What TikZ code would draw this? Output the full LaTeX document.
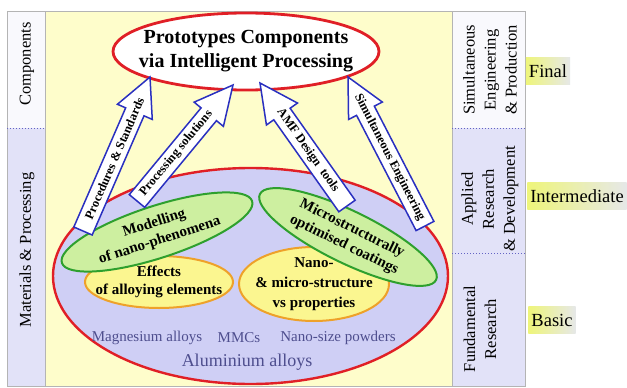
\documentclass[tikz,border=0pt]{standalone}
\usepackage{fontspec}
\setmainfont{Liberation Serif}
\usetikzlibrary{shapes.geometric,calc}

\definecolor{bgyellow}{HTML}{FEFDCB}
\definecolor{lav}{HTML}{E2E2F8}
\definecolor{colwhite}{HTML}{F9F9FD}
\definecolor{bigfill}{HTML}{CFCFF5}
\definecolor{redline}{HTML}{E01F26}
\definecolor{greenline}{HTML}{2EA02E}
\definecolor{greenfill}{HTML}{CDEFA0}
\definecolor{yelfill}{HTML}{FBF690}
\definecolor{orangeline}{HTML}{EEA12A}
\definecolor{arrowblue}{HTML}{2A30C0}
\definecolor{slate}{HTML}{4E4E8E}
\definecolor{labelyellow}{HTML}{EEF57A}
\definecolor{labelgray}{HTML}{E6E8E8}
\definecolor{framegray}{HTML}{B4B4B4}
\definecolor{dotblue}{HTML}{6464C4}

\newcommand\fs[2]{\fontsize{#1}{#2}\selectfont}
\newcommand\blockarrow[4]{%
  \coordinate (#1h) at ($(#2)!38pt!(#1)$);
  \draw[blockarrow] ($(#1)!10pt!90:(#2)$) -- ($(#1h)!10pt!90:(#2)$) -- ($(#1h)!19pt!90:(#2)$) -- (#2)
     -- ($(#1h)!19pt!-90:(#2)$) -- ($(#1h)!10pt!-90:(#2)$) -- ($(#1)!10pt!-90:(#2)$) -- cycle;
  \path (#1) -- (#2) node[arrowtext, sloped, pos=#4] (#1txt) {#3};
}

\begin{document}
\begin{tikzpicture}[x=1pt,y=-1pt,
  ell/.style={ellipse, inner sep=0pt, outer sep=0pt},
  bigell/.style={ell, draw=redline, line width=2.4pt, fill=bigfill, minimum width=395pt, minimum height=216pt},
  topell/.style={ell, draw=redline, line width=2.8pt, fill=white, minimum width=266pt, minimum height=77pt},
  yell/.style={ell, draw=orangeline, line width=2pt, fill=yelfill},
  grell/.style={ell, draw=greenline, line width=2pt, fill=greenfill, minimum width=200pt, minimum height=52pt},
  elltext/.style={inner sep=0pt, align=center, font=\bfseries\fs{15}{18}},
  titletext/.style={inner sep=0pt, align=center, font=\bfseries\fs{20}{24}},
  coltext/.style={inner sep=0pt, align=center, rotate=90, font=\fs{16.5}{21}},
  mattext/.style={inner sep=0pt, text=slate, font=\fs{15}{17}},
  levellabel/.style={inner xsep=3pt, inner ysep=0pt, minimum height=27pt, left color=labelyellow, right color=labelgray, font=\fs{18.5}{20}},
  blockarrow/.style={draw=arrowblue, line width=1.5pt, fill=white, line join=miter},
  arrowtext/.style={inner sep=0pt, font=\bfseries\fs{12.5}{14}}
]
\useasboundingbox (0,0) rectangle (627,388);
\fill[white] (0,0) rectangle (627,388);

% columns and background
\fill[colwhite] (7,11) rectangle (45,128);
\fill[lav] (7,128) rectangle (45,386);
\fill[bgyellow] (45,11) rectangle (452,386);
\fill[colwhite] (452,11) rectangle (525,128);
\fill[lav] (452,128) rectangle (525,386);
\draw[framegray, line width=0.8pt] (7,11) rectangle (525,386);
\draw[framegray, line width=0.8pt] (45,11) -- (45,386);
\draw[framegray, line width=0.8pt] (452,11) -- (452,386);
\draw[dotblue, dotted, line width=1pt] (7,128) -- (45,128);
\draw[dotblue, dotted, line width=1pt] (452,128) -- (525,128);
\draw[dotblue, dotted, line width=1pt] (452,253) -- (525,253);

% column texts
\node[coltext] (comp) at (27,64) {Components};
\node[coltext] (matp) at (27,250) {Materials \& Processing};
\node[coltext] (sep) at (490,70) {Simultaneous\\Engineering\\\& Production};
\node[coltext] (ard) at (490,199) {Applied\\Research\\\& Development};
\node[coltext] (fund) at (480,329) {Fundamental\\Research};

% level labels
\node[levellabel] (final) at (548,71) {Final};
\node[levellabel] (inter) at (577,196) {Intermediate};
\node[levellabel] (basic) at (552,320) {Basic};

% base ellipse
\node[bigell] (base) at (250.5,276) {};
\node[mattext] (mg) at (147,338) {Magnesium alloys};
\node[mattext] (mmc) at (239,338) {MMCs};
\node[mattext] (nsp) at (338,338) {Nano-size powders};
\node[mattext, font=\fs{18}{20}] (al) at (247,362) {Aluminium alloys};

% inner ellipses
\node[yell, minimum width=148pt, minimum height=52pt] (eff) at (159,282) {};
\node[elltext] (efft) at (eff) {Effects\\of alloying elements};
\node[yell, minimum width=150pt, minimum height=74pt] (nano) at (314,284) {};
\node[elltext, font=\bfseries\fs{15}{20}] (nanot) at (nano) {Nano-\\\& micro-structure\\vs properties};
\node[grell, rotate=18] (model) at (157,232) {};
\node[elltext, rotate=18] (modelt) at (model) {Modelling\\of nano-phenomena};
\node[grell, rotate=-26, minimum width=196pt] (coat) at (348,237) {};
\node[elltext, rotate=-26] (coatt) at (coat) {Microstructurally\\optimised coatings};

% top ellipse
\node[topell] (top) at (246,51.5) {};
\node[titletext] (topt) at (top) {Prototypes Components\\via Intelligent Processing};

% block arrows
\coordinate (t1) at (83,231);
\coordinate (t2) at (137,201);
\coordinate (t3) at (347,206);
\coordinate (t4) at (425,226);
\coordinate (p1) at (150,77);
\coordinate (p2) at (233,85);
\coordinate (p3) at (260,83);
\coordinate (p4) at (348,77);
\blockarrow{t1}{p1}{Procedures \& Standards}{0.47}
\blockarrow{t2}{p2}{Processing solutions}{0.41}
\blockarrow{t3}{p3}{AMF Design\ \ tools}{0.45}
\blockarrow{t4}{p4}{Simultaneous Engineering}{0.46}
\end{tikzpicture}
\end{document}
